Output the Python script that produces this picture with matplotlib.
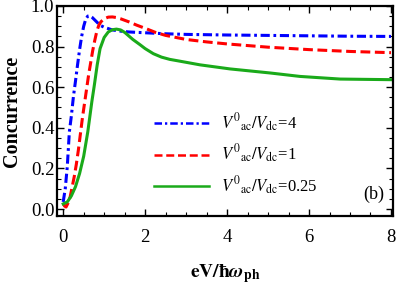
import numpy as np
import matplotlib
matplotlib.use("Agg")
import matplotlib.pyplot as plt
from matplotlib.ticker import MultipleLocator

plt.rcParams['font.family'] = 'serif'
plt.rcParams['font.serif'] = ['Liberation Serif', 'DejaVu Serif']
plt.rcParams['mathtext.fontset'] = 'stix'

# values
x_blue = [0, 0.05, 0.1, 0.15, 0.2, 0.25, 0.3, 0.35, 0.4, 0.45, 0.5, 0.55, 0.6, 0.65,
          0.7, 0.8, 0.9, 1.0, 1.2, 1.4, 1.6, 1.8, 2.0, 2.5, 3, 4, 5, 6, 7, 8]
y_blue = [0.035, 0.1, 0.21, 0.38, 0.46, 0.555, 0.63, 0.71, 0.785, 0.85, 0.9, 0.935, 0.95, 0.952,
          0.945, 0.925, 0.905, 0.895, 0.882, 0.876, 0.872, 0.87, 0.868, 0.863, 0.86, 0.857,
          0.855, 0.853, 0.851, 0.85]

x_red = [0, 0.03, 0.07, 0.12, 0.17, 0.22, 0.27, 0.32, 0.37, 0.42, 0.47, 0.52, 0.57, 0.62,
         0.67, 0.72, 0.77, 0.82, 0.87, 0.92, 1.0, 1.1, 1.2, 1.3, 1.4, 1.6, 1.8, 2.0, 2.25,
         2.5, 2.75, 3.0, 3.5, 4, 4.5, 5, 6, 7, 8]
y_red = [0.03, 0.015, 0.01, 0.03, 0.06, 0.11, 0.16, 0.22, 0.29, 0.37, 0.45, 0.52, 0.59, 0.66,
         0.72, 0.78, 0.83, 0.875, 0.905, 0.922, 0.937, 0.945, 0.946, 0.943, 0.937, 0.922,
         0.905, 0.89, 0.87, 0.855, 0.845, 0.835, 0.823, 0.813, 0.805, 0.797, 0.785, 0.776, 0.77]

x_green = [0, 0.1, 0.2, 0.3, 0.4, 0.5, 0.6, 0.7, 0.76, 0.83, 0.9, 1.0, 1.1, 1.2, 1.3, 1.4,
           1.5, 1.7, 1.87, 2.0, 2.2, 2.4, 2.6, 2.85, 3.34, 4.07, 5.05, 5.78, 6.76, 8]
y_green = [0.025, 0.035, 0.065, 0.11, 0.175, 0.26, 0.38, 0.53, 0.61, 0.71, 0.79, 0.845, 0.872,
           0.883, 0.886, 0.882, 0.87, 0.835, 0.81, 0.79, 0.765, 0.748, 0.737, 0.728, 0.71,
           0.69, 0.67, 0.653, 0.64, 0.637]

labels = [r'$V^{0}{}_{\mathrm{ac}}/V_{\mathrm{dc}}$=4',
          r'$V^{0}{}_{\mathrm{ac}}/V_{\mathrm{dc}}$=1',
          r'$V^{0}{}_{\mathrm{ac}}/V_{\mathrm{dc}}$=0.25']

fig = plt.figure(figsize=(3.99, 2.84), dpi=100)
ax = fig.add_axes([0.143, 0.239, 0.842, 0.74])

lw = 2.2
ax.plot(x_blue, y_blue, color='#0000ff', lw=lw, dashes=(3, 1.2, 0.9, 1.2), label=labels[0])
ax.plot(x_red, y_red, color='#ff0000', lw=lw, dashes=(3.2, 1.5), label=labels[1])
ax.plot(x_green, y_green, color='#1aaa1a', lw=lw, label=labels[2])

ax.set_xlim(-0.15, 8.05)
ax.set_ylim(-0.035, 1.0)
ax.xaxis.set_major_locator(MultipleLocator(2))
ax.xaxis.set_minor_locator(MultipleLocator(0.5))
ax.yaxis.set_major_locator(MultipleLocator(0.2))
ax.yaxis.set_minor_locator(MultipleLocator(0.05))
ax.set_yticks([0, 0.2, 0.4, 0.6, 0.8, 1.0])
ax.set_yticklabels(['0.0', '0.2', '0.4', '0.6', '0.8', '1.0'])
ax.tick_params(which='both', direction='in', top=True, right=True, labelsize=13.5)
ax.tick_params(axis='x', which='both', pad=9)
ax.tick_params(axis='y', which='both', pad=2)
ax.tick_params(which='major', length=5, width=1)
ax.tick_params(which='minor', length=3, width=0.8)
for s in ax.spines.values():
    s.set_linewidth(1.6)

ax.set_xlabel(r'$\mathbf{eV/}\boldsymbol{\hbar\omega}_{\mathbf{ph}}$', fontsize=14, labelpad=12)
ax.set_ylabel('Concurrence', fontsize=14.5, fontweight='bold', labelpad=6)

leg = ax.legend(loc='upper left', bbox_to_anchor=(0.27, 0.53), frameon=False, fontsize=12,
                handlelength=3.3, handletextpad=0.7, labelspacing=0.55, borderaxespad=0)
for h in leg.get_lines():
    h.set_linewidth(1.8)
ax.text(7.58, 0.07, '(b)', fontsize=13, ha='center', va='center')

fig.savefig('out.png', dpi=100)
